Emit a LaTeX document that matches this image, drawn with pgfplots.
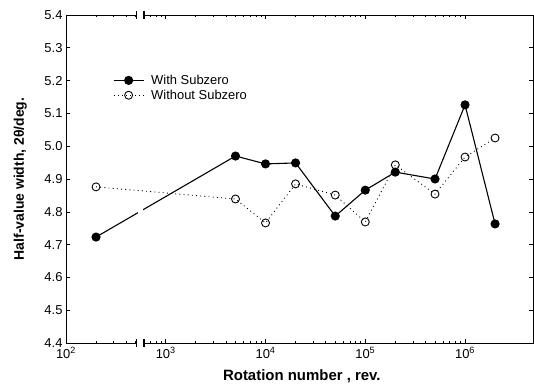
\documentclass[border=0pt]{standalone}
\usepackage{pgfplots}
\pgfplotsset{compat=1.18}
\usepackage{fontspec}
\setmainfont{Liberation Sans}
\begin{document}
\begin{tikzpicture}
\useasboundingbox (-66bp,-44bp) rectangle (468bp,343bp);
\begin{axis}[
  scale only axis, width=467bp, height=328bp,
  xmode=log, xmin=100, xmax=4.8e6,
  ymin=4.4, ymax=5.4,
  ytick={4.4,4.5,...,5.41},
  xtick={100,1000,10000,100000,1000000},
  xticklabels={10\textsuperscript{2},10\textsuperscript{3},10\textsuperscript{4},10\textsuperscript{5},10\textsuperscript{6}},
  yticklabel style={/pgf/number format/.cd,fixed,fixed zerofill,precision=1,assume math mode=true},
  tick label style={font=\fontsize{13}{15}\selectfont},
  xticklabel style={yshift=-1bp},
  major tick length=4bp, minor tick length=2.5bp,
  tick align=inside,
  axis line style={line width=0.9pt},
  tick style={line width=0.6pt, black},
  xlabel={\bfseries Rotation number , rev.},
  ylabel={\bfseries Half-value width, 2θ/deg.},
  xlabel style={font=\fontsize{15}{17}\selectfont, at={(axis description cs:0.505,-0.1)}, anchor=center},
  ylabel style={font=\fontsize{14}{16}\selectfont, at={(axis description cs:-0.098,0.5)}, anchor=center},
  legend style={draw=none, fill=none, at={(0.094,0.83)}, anchor=north west,
    font=\fontsize{13}{15}\selectfont, row sep=0bp},
  legend cell align=left,
  legend image code/.code={\draw[mark repeat=2,mark phase=2] plot coordinates {(0bp,0bp) (15bp,0bp) (30bp,0bp)}; \path (35bp,0bp);},
  clip=false,
]
\addplot[black, line width=1.1pt, mark=*, mark size=4bp, mark options={solid, fill=black}]
  coordinates {(200,4.723) (5000,4.97) (10000,4.946) (20000,4.949) (50000,4.787) (100000,4.866) (200000,4.921) (500000,4.90) (1000000,5.126) (2000000,4.763)};
\addlegendentry{With Subzero}
\addplot[black, line width=0.9pt, dash pattern=on 0.9pt off 3.3pt, mark=o, mark size=4bp, mark options={solid, fill=white, line width=0.9pt}]
  coordinates {(200,4.876) (5000,4.839) (10000,4.766) (20000,4.885) (50000,4.851) (100000,4.769) (200000,4.943) (500000,4.854) (1000000,4.967) (2000000,5.025)};
\addlegendentry{Without Subzero}
% axis break marks
\fill[white] (axis cs:530,4.78) rectangle (axis cs:590,4.835);
\fill[white] ([yshift=-1.5bp]axis cs:518,4.4) rectangle ([yshift=1.5bp]axis cs:600,4.4);
\fill[white] ([yshift=-1.5bp]axis cs:518,5.4) rectangle ([yshift=1.5bp]axis cs:600,5.4);
\draw[line width=1.1pt] ([yshift=-4bp]axis cs:514,4.4) -- ([yshift=4bp]axis cs:514,4.4);
\draw[line width=1.1pt] ([yshift=-4bp]axis cs:605,4.4) -- ([yshift=4bp]axis cs:605,4.4);
\draw[line width=1.1pt] ([yshift=-4bp]axis cs:514,5.4) -- ([yshift=4bp]axis cs:514,5.4);
\draw[line width=1.1pt] ([yshift=-4bp]axis cs:605,5.4) -- ([yshift=4bp]axis cs:605,5.4);
\end{axis}
\end{tikzpicture}
\end{document}
